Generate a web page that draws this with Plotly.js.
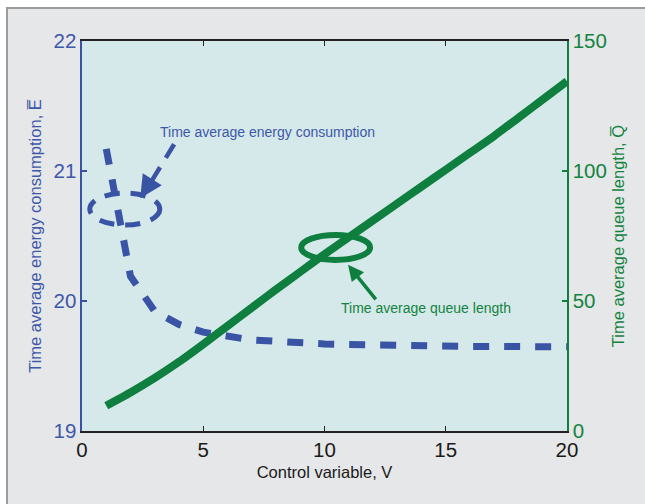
<!DOCTYPE html>
<html><head><meta charset="utf-8">
<script src="https://cdn.plot.ly/plotly-3.0.1.min.js"></script>
<style>
html,body{margin:0;padding:0;background:#fff;width:645px;height:504px;overflow:hidden}
#chart{position:absolute;left:6px;top:7px;width:637px;height:495px;border-left:2px solid #9b9b9b;border-top:2px solid #9b9b9b}
</style></head><body><div id="chart"></div>
<script>
// ---- data ----
const controlV = [1,2,3,4,5,6,7,8,9,10,11,12,13,14,15,16,17,18,19,20];
const energyE  = [21.17,20.19,19.92,19.82,19.76,19.73,19.70,19.69,19.675,19.67,19.665,19.66,19.66,19.655,19.655,19.65,19.65,19.65,19.65,19.648];
const queueQ   = [9.7,14.8,20.4,26.6,33.4,40.4,47.4,54.4,61.2,68,74.5,81,87.5,94,100.5,107,113.5,120.5,127.5,134.5];
const xTicks = [0,5,10,15,20];
const energyTicks = [19,20,21,22];
const queueTicks = [0,50,100,150];
const xTitle = 'Control variable, V';
const energyTitle = 'Time average energy consumption, E\u0305';
const queueTitle = 'Time average queue length, Q\u0305';
const energyNote = 'Time average energy consumption';
const queueNote = 'Time average queue length';

// callout geometry (data coordinates)
const energyRing = [0.32, 3.21, 20.584, 20.83];   // x0,x1,y0,y1 on energy axis
const energyPointerTail = [3.80, 21.206];
const energyPointerTip = [2.40, 20.79];
const energyNoteAt = [3.14, 21.30];
const queueRing = [9.04, 11.88, 65.8, 75.4];       // on queue axis
const queuePointerTip = [10.97, 63.9];
const queueNoteAt = [14.19, 47.3];

const BLUE = '#3a54a5', GREEN = '#0e7f3e', TXTBLUE = '#3d58a9', TXTGREEN = '#138440';
const FONT = 'Liberation Sans, Arial, Helvetica, sans-serif';

const traces = [
  {x: controlV, y: energyE, type:'scatter', mode:'lines', yaxis:'y',
   line:{color:BLUE, width:7, dash:'16px,15px'}, hoverinfo:'skip'},
  {x: controlV, y: queueQ, type:'scatter', mode:'lines', yaxis:'y2',
   line:{color:GREEN, width:8, shape:'spline', smoothing:0.6}, hoverinfo:'skip'}
];

const layout = {
  width:637, height:495,
  margin:{l:74, r:78, t:31.5, b:72.5},
  paper_bgcolor:'#e6e7e8', plot_bgcolor:'#d5e8ea',
  showlegend:false,
  font:{family:FONT},
  xaxis:{range:[0,20], tickvals:xTicks, ticktext:xTicks.map(String),
    ticks:'inside', ticklen:5, tickwidth:1.2, tickcolor:'#222',
    showline:true, linecolor:'#222', linewidth:1.8, mirror:'ticks',
    showgrid:false, zeroline:false,
    tickfont:{size:20.5, color:'#1a1a1a'},
    title:{text:xTitle, font:{size:16.5, color:'#1a1a1a'}, standoff:6}},
  yaxis:{range:[19,22], tickvals:energyTicks, ticktext:energyTicks.map(String),
    ticks:'inside', ticklen:5, tickwidth:1.2, tickcolor:BLUE,
    showline:true, linecolor:BLUE, linewidth:1.6,
    showgrid:false, zeroline:false,
    tickfont:{size:20.5, color:TXTBLUE},
    title:{text:energyTitle, font:{size:16.5, color:TXTBLUE}, standoff:8}},
  yaxis2:{range:[0,150], tickvals:queueTicks, ticktext:queueTicks.map(String),
    overlaying:'y', side:'right',
    ticks:'inside', ticklen:5, tickwidth:1.2, tickcolor:GREEN,
    showline:true, linecolor:GREEN, linewidth:1.6,
    showgrid:false, zeroline:false,
    tickfont:{size:20.5, color:TXTGREEN},
    title:{text:queueTitle, font:{size:16.5, color:TXTGREEN}, standoff:6}},
  shapes:[
    {type:'circle', xref:'x', yref:'y', x0:energyRing[0], x1:energyRing[1], y0:energyRing[2], y1:energyRing[3],
     line:{color:BLUE, width:5, dash:'15px,11px'}},
    {type:'line', xref:'x', yref:'y', x0:energyPointerTail[0], y0:energyPointerTail[1],
     x1:energyPointerTip[0]+0.15, y1:energyPointerTip[1]+0.035,
     line:{color:BLUE, width:4.5, dash:'16px,11px'}},
    {type:'circle', xref:'x', yref:'y2', x0:queueRing[0], x1:queueRing[1], y0:queueRing[2], y1:queueRing[3],
     line:{color:GREEN, width:6}}
  ],
  annotations:[
    {x:energyNoteAt[0], y:energyNoteAt[1], xref:'x', yref:'y', text:energyNote, showarrow:false,
     xanchor:'left', yanchor:'middle', font:{size:14, color:TXTBLUE}},
    {x:queueNoteAt[0], y:queueNoteAt[1], xref:'x', yref:'y2', text:queueNote, showarrow:false,
     xanchor:'center', yanchor:'middle', font:{size:14, color:TXTGREEN}},
    {x:energyPointerTip[0], y:energyPointerTip[1], xref:'x', yref:'y', text:'', showarrow:true,
     ax:7, ay:-11, arrowhead:2, arrowsize:1, arrowwidth:4.5, arrowcolor:BLUE},
    {x:queuePointerTip[0], y:queuePointerTip[1], xref:'x', yref:'y2', text:'', showarrow:true,
     ax:29, ay:36, arrowhead:2, arrowsize:0.9, arrowwidth:3.5, arrowcolor:GREEN}
  ]
};

Plotly.newPlot('chart', traces, layout, {displayModeBar:false, staticPlot:true});
</script></body></html>
